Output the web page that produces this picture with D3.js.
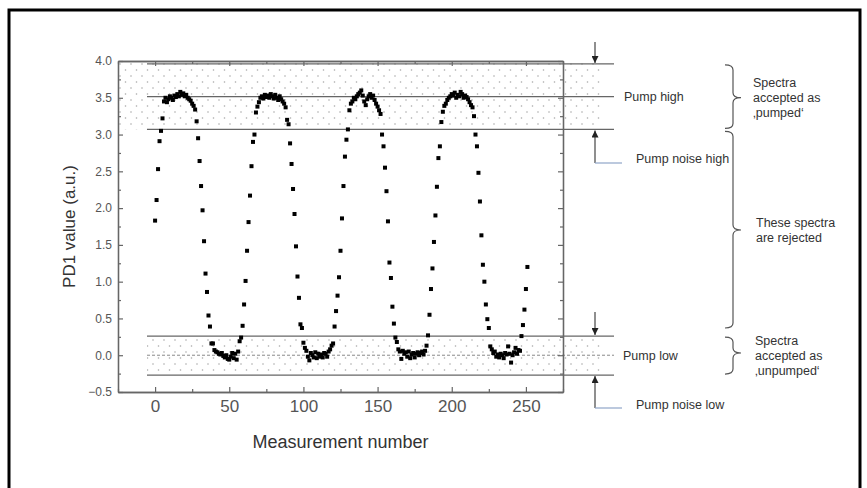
<!DOCTYPE html>
<html>
<head>
<meta charset="utf-8">
<script src="https://cdnjs.cloudflare.com/ajax/libs/d3/7.8.5/d3.min.js"></script>
<style>
  html, body { margin: 0; padding: 0; background: #fff; }
  svg { display: block; font-family: "Liberation Sans", Arial, sans-serif; }
</style>
</head>
<body>
<div id="chart"></div>
<script>
// PD1 value for each measurement (index = measurement number)
var pd1Values = [
  1.83, 2.11, 2.53, 2.91, 3.05, 3.22,
  3.45, 3.50, 3.44, 3.48, 3.52, 3.50, 3.47, 3.53, 3.51, 3.55, 3.52, 3.58, 3.54, 3.56, 3.52, 3.54, 3.50, 3.48, 3.46, 3.42,
  3.39, 3.34, 3.18, 2.95, 2.64, 2.30, 1.97, 1.55, 1.11, 0.86, 0.54, 0.39, 0.16,
  0.16, 0.07, 0.05, 0.04, 0.02, 0.01, 0.03, -0.01, -0.03, 0.00, -0.05, -0.06, -0.02, 0.03, -0.04, 0.02, -0.06, 0.05,
  0.19, 0.24, 0.40, 0.69, 1.01, 1.42, 1.81, 2.17, 2.57, 2.90, 3.00, 3.30, 3.38,
  3.44, 3.50, 3.52, 3.49, 3.54, 3.51, 3.53, 3.50, 3.55, 3.52, 3.49, 3.54, 3.50, 3.47, 3.52, 3.48, 3.45, 3.42,
  3.37, 3.20, 3.14, 2.88, 2.60, 2.26, 1.92, 1.48, 1.07, 0.78, 0.42, 0.37, 0.17,
  0.10, 0.06, -0.02, -0.07, 0.03, 0.00, -0.03, 0.04, -0.04, 0.02, -0.02, 0.01, -0.03, 0.03, 0.02, -0.02, 0.05, 0.08, 0.13,
  0.16, 0.39, 0.60, 0.81, 1.06, 1.42, 1.86, 2.30, 2.70, 2.93, 3.07, 3.33,
  3.42, 3.45, 3.50, 3.48, 3.52, 3.55, 3.57, 3.60, 3.53, 3.45, 3.40, 3.48, 3.52, 3.55, 3.50, 3.53, 3.47, 3.42, 3.38,
  3.33, 3.28, 3.00, 2.84, 2.55, 2.23, 1.82, 1.26, 1.05, 0.66, 0.43, 0.24,
  0.18, 0.08, 0.05, -0.05, 0.06, 0.02, 0.04, -0.02, 0.05, -0.04, 0.01, 0.03, -0.03, 0.02, 0.04, 0.00, 0.03, 0.05, 0.01, 0.06, 0.13,
  0.27, 0.55, 0.90, 1.18, 1.54, 1.90, 2.29, 2.68, 2.84, 3.17, 3.31, 3.39,
  3.42, 3.47, 3.50, 3.52, 3.55, 3.53, 3.57, 3.50, 3.54, 3.52, 3.58, 3.55, 3.50, 3.53, 3.51, 3.48, 3.44, 3.40,
  3.37, 3.25, 3.00, 2.84, 2.48, 2.09, 1.63, 1.23, 1.00, 0.69, 0.49, 0.37, 0.12,
  0.08, 0.03, 0.05, -0.02, 0.01, -0.03, 0.02, 0.00, -0.04, 0.03, 0.01, 0.12, 0.02, -0.10, 0.00, 0.04, 0.10, 0.02, 0.07, 0.06,
  0.26, 0.41, 0.62, 0.90, 1.20
];

var xTicks = [0, 50, 100, 150, 200, 250];
var yTicks = [-0.5, 0.0, 0.5, 1.0, 1.5, 2.0, 2.5, 3.0, 3.5, 4.0];

// threshold levels: [noise low edge, level, noise high edge]
var pumpHighBand = [3.07, 3.515, 3.96];
var pumpLowBand = [-0.27, 0.0, 0.26];

var levelLabels = ["Pump high", "Pump noise high", "Pump low", "Pump noise low"];
var pumpedText = ["Spectra", "accepted as", "\u201Apumped\u2018"];
var rejectedText = ["These spectra", "are rejected"];
var unpumpedText = ["Spectra", "accepted as", "\u201Aunpumped\u2018"];

main();

function main() {
  var W = 867, H = 488;
  var margin = { top: 61, right: 304, bottom: 96, left: 118 },
    width = W - margin.left - margin.right,
    height = H - margin.top - margin.bottom;

  var svg = d3.select("#chart").append("svg")
    .attr("width", W)
    .attr("height", H);

  // dotted fill for the accepted bands
  var defs = svg.append("defs");
  var pat = defs.append("pattern")
    .attr("id", "dots")
    .attr("patternUnits", "userSpaceOnUse")
    .attr("width", 11).attr("height", 12);
  pat.append("circle").attr("cx", 2).attr("cy", 3).attr("r", 0.8).attr("fill", "#a8a8a8");
  pat.append("circle").attr("cx", 7.5).attr("cy", 9).attr("r", 0.8).attr("fill", "#a8a8a8");

  // outer frame
  svg.append("rect")
    .attr("x", 9).attr("y", 10)
    .attr("width", 851).attr("height", 490)
    .attr("fill", "none")
    .attr("stroke", "#000")
    .attr("stroke-width", 3);

  var g = svg.append("g")
    .attr("transform", "translate(" + margin.left + "," + margin.top + ")");

  var x = d3.scaleLinear().domain([-25, 275]).range([0, width]);
  var y = d3.scaleLinear().domain([-0.5, 4.0]).range([height, 0]);

  var bandX0 = 29, bandX1 = 484, lineX1 = 496;

  // upper band
  g.append("rect")
    .attr("x", 0).attr("y", y(4.0))
    .attr("width", bandX1)
    .attr("height", y(pumpHighBand[0]) - y(4.0))
    .attr("fill", "url(#dots)");
  // lower band
  g.append("rect")
    .attr("x", bandX0).attr("y", y(pumpLowBand[2]))
    .attr("width", bandX1 - bandX0)
    .attr("height", y(pumpLowBand[0]) - y(pumpLowBand[2]))
    .attr("fill", "url(#dots)");

  // threshold lines
  var solidLevels = [pumpHighBand[2], pumpHighBand[1], pumpHighBand[0], pumpLowBand[2], pumpLowBand[0]];
  g.selectAll("line.level")
    .data(solidLevels)
    .enter()
    .append("line")
    .attr("class", "level")
    .attr("x1", bandX0).attr("x2", lineX1)
    .attr("y1", function (d) { return y(d); })
    .attr("y2", function (d) { return y(d); })
    .attr("stroke", "#666")
    .attr("stroke-width", 1.3);
  g.append("line")
    .attr("x1", bandX0).attr("x2", lineX1)
    .attr("y1", y(pumpLowBand[1])).attr("y2", y(pumpLowBand[1]))
    .attr("stroke", "#8a8a8a")
    .attr("stroke-width", 1)
    .attr("stroke-dasharray", "3,2");

  // axes
  var axisColor = "#666";
  function styleAxis(sel) {
    sel.selectAll("path.domain").attr("stroke", axisColor).attr("stroke-width", 1.3);
    sel.selectAll(".tick line").attr("stroke", axisColor).attr("stroke-width", 1.2);
    sel.selectAll(".tick text").attr("fill", "#555");
  }

  var xMinor = d3.range(-25, 276, 25).filter(function (d) { return xTicks.indexOf(d) < 0; });
  var yMinor = d3.range(-0.25, 4.0, 0.5);

  g.append("g")
    .attr("transform", "translate(0," + height + ")")
    .call(d3.axisBottom(x).tickValues(xTicks).tickSize(-5).tickSizeOuter(0).tickPadding(8))
    .call(styleAxis)
    .selectAll("text").attr("font-size", 17).attr("font-family", "Liberation Sans, Arial, sans-serif");
  g.append("g")
    .attr("transform", "translate(0," + height + ")")
    .call(d3.axisBottom(x).tickValues(xMinor).tickSize(-3).tickSizeOuter(0).tickFormat(""))
    .call(styleAxis);

  g.append("g")
    .call(d3.axisTop(x).tickValues(xTicks).tickSize(-5).tickSizeOuter(0).tickFormat(""))
    .call(styleAxis);
  g.append("g")
    .call(d3.axisTop(x).tickValues(xMinor).tickSize(-3).tickSizeOuter(0).tickFormat(""))
    .call(styleAxis);

  g.append("g")
    .call(d3.axisLeft(y).tickValues(yTicks).tickSize(-5).tickSizeOuter(0).tickPadding(6).tickFormat(d3.format(".1f")))
    .call(styleAxis)
    .selectAll("text").attr("font-size", 12).attr("font-family", "Liberation Sans, Arial, sans-serif");
  g.append("g")
    .call(d3.axisLeft(y).tickValues(yMinor).tickSize(-3).tickSizeOuter(0).tickFormat(""))
    .call(styleAxis);

  g.append("g")
    .attr("transform", "translate(" + width + ",0)")
    .call(d3.axisRight(y).tickValues(yTicks).tickSize(-5).tickSizeOuter(0).tickFormat(""))
    .call(styleAxis);
  g.append("g")
    .attr("transform", "translate(" + width + ",0)")
    .call(d3.axisRight(y).tickValues(yMinor).tickSize(-3).tickSizeOuter(0).tickFormat(""))
    .call(styleAxis);

  // axis titles
  g.append("text")
    .attr("x", x(125)).attr("y", height + 56)
    .attr("text-anchor", "middle")
    .attr("font-size", 18)
    .attr("fill", "#333")
    .text("Measurement number");
  g.append("text")
    .attr("transform", "translate(-43," + (height / 2) + ") rotate(-90)")
    .attr("text-anchor", "middle")
    .attr("font-size", 17)
    .attr("fill", "#333")
    .text("PD1 value (a.u.)");

  // data points
  g.selectAll("rect.pt")
    .data(pd1Values)
    .enter()
    .append("rect")
    .attr("class", "pt")
    .attr("x", function (d, i) { return x(i) - 2; })
    .attr("y", function (d) { return y(d) - 2; })
    .attr("width", 4)
    .attr("height", 4)
    .attr("fill", "#000");

  // arrows and level labels
  var ax = 477;
  defs.append("marker")
    .attr("id", "head")
    .attr("viewBox", "0 0 10 10")
    .attr("refX", 10).attr("refY", 5)
    .attr("markerWidth", 8).attr("markerHeight", 7)
    .attr("markerUnits", "userSpaceOnUse")
    .attr("orient", "auto")
    .append("path").attr("d", "M0,0 L10,5 L0,10 Z").attr("fill", "#222");
  function arrow(y0, y1) {
    g.append("line")
      .attr("x1", ax).attr("x2", ax)
      .attr("y1", y0).attr("y2", y1)
      .attr("stroke", "#333").attr("stroke-width", 1.1)
      .attr("marker-end", "url(#head)");
  }
  arrow(-19, y(pumpHighBand[2]) - 1);
  arrow(102, y(pumpHighBand[0]) + 1);
  arrow(251, y(pumpLowBand[2]) - 1);
  arrow(347, y(pumpLowBand[0]) + 1);
  g.append("line").attr("x1", ax).attr("x2", ax + 27).attr("y1", 102).attr("y2", 102)
    .attr("stroke", "#8fa6c8").attr("stroke-width", 1.2);
  g.append("line").attr("x1", ax).attr("x2", ax + 27).attr("y1", 347).attr("y2", 347)
    .attr("stroke", "#8fa6c8").attr("stroke-width", 1.2);

  var labelPos = [[506, y(pumpHighBand[1])], [518, 98], [505, y(pumpLowBand[1])], [518, 344]];
  g.selectAll("text.lvl")
    .data(levelLabels)
    .enter()
    .append("text")
    .attr("class", "lvl")
    .attr("x", function (d, i) { return labelPos[i][0]; })
    .attr("y", function (d, i) { return labelPos[i][1]; })
    .attr("dy", "0.35em")
    .attr("font-size", 12.5)
    .attr("fill", "#333")
    .text(function (d) { return d; });

  // braces
  function brace(y0, y1, ym) {
    var x0 = 607, x1 = 615, x2 = 623, r = 5;
    var p = "M" + x0 + "," + y0 + " Q" + x1 + "," + y0 + " " + x1 + "," + (y0 + r) +
      " L" + x1 + "," + (ym - r) + " Q" + x1 + "," + ym + " " + x2 + "," + ym +
      " Q" + x1 + "," + ym + " " + x1 + "," + (ym + r) +
      " L" + x1 + "," + (y1 - r) + " Q" + x1 + "," + y1 + " " + x0 + "," + y1;
    g.append("path").attr("d", p).attr("fill", "none").attr("stroke", "#555").attr("stroke-width", 1.2);
  }
  brace(y(pumpHighBand[2]) + 1, y(pumpHighBand[0]) - 1, y(pumpHighBand[1]) + 1);
  brace(y(pumpHighBand[0]) + 2, 267, 169);
  brace(y(pumpLowBand[2]) + 1, y(pumpLowBand[0]) - 1, 292);

  function block(lines, x0, yc) {
    var t = g.append("text").attr("x", x0).attr("font-size", 12.5).attr("fill", "#333");
    lines.forEach(function (s, i) {
      t.append("tspan").attr("x", x0)
        .attr("y", yc + (i - (lines.length - 1) / 2) * 15)
        .attr("dy", "0.35em")
        .text(s);
    });
  }
  block(pumpedText, 635, 37);
  block(rejectedText, 638, 169);
  block(unpumpedText, 637, 295);
}
</script>
</body>
</html>
